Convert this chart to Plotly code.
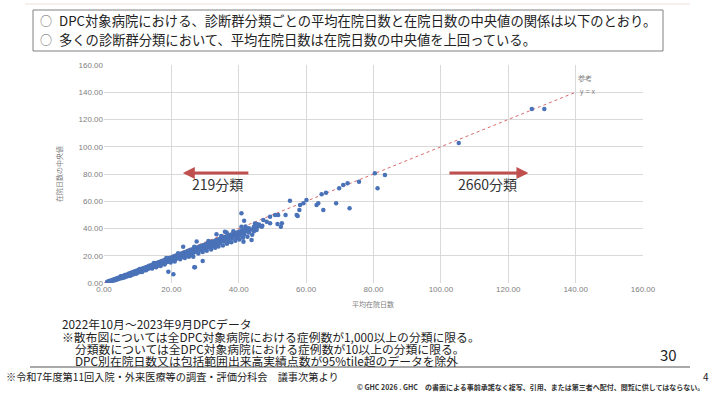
import plotly.graph_objects as go

# ---------------- data ----------------
# dense band: mean length of stay -> several median values
band_mean = [1.0, 1.5, 2.0, 2.6, 3.2, 3.8, 4.4, 5.0, 5.6, 6.2, 6.8, 7.4, 8.0, 8.6, 9.2, 9.8,
             10.4, 11.0, 11.6, 12.2, 12.8, 13.4, 14.0, 14.6, 15.2, 15.8, 16.4, 17.0, 17.6,
             18.2, 18.8, 19.4, 20.0, 20.6, 21.2, 21.8, 22.4, 23.0, 23.6, 24.2, 24.8, 25.4,
             26.0, 26.6, 27.2, 27.8, 28.4, 29.0, 29.6, 30.2, 30.8, 31.4, 32.0, 32.6, 33.2,
             33.8, 34.4, 35.0, 35.6, 36.2, 36.8, 37.4, 38.0, 38.6, 39.2, 39.8, 40.4, 41.0,
             41.6, 42.2, 43.0, 43.8, 44.5, 45.3, 46.0, 47.0]
band_median = [
    [0.8, 1.0], [1.0, 1.4], [1.5, 1.9, 1.2], [2.0, 2.4, 1.7], [2.5, 3.0, 2.1],
    [3.0, 3.5, 2.6], [3.5, 4.1, 3.0], [4.0, 4.6, 3.4, 4.9], [4.5, 5.2, 3.9],
    [5.0, 5.8, 4.3, 5.4], [5.6, 6.3, 4.8], [6.1, 6.9, 5.3, 6.5], [6.6, 7.5, 5.8, 7.0],
    [7.2, 8.0, 6.3, 7.6], [7.7, 8.6, 6.9, 8.2], [8.3, 9.2, 7.4, 8.7], [8.8, 9.7, 7.9, 9.3],
    [9.4, 10.3, 8.5, 9.9], [9.9, 10.9, 9.0, 10.4], [10.5, 11.4, 9.5, 11.0],
    [11.0, 12.0, 10.1, 11.5], [11.6, 12.6, 10.6, 12.1], [12.1, 13.1, 11.1, 12.7],
    [12.7, 13.7, 11.7, 13.2], [13.2, 14.3, 12.2, 13.8], [13.8, 14.9, 12.7, 14.4],
    [14.3, 15.4, 13.3, 14.9], [14.9, 16.0, 13.8, 15.5], [15.4, 16.6, 14.3, 16.1],
    [16.0, 17.1, 14.9, 16.6], [16.5, 17.7, 15.4, 17.2], [17.1, 18.3, 15.9, 17.8],
    [17.6, 18.8, 16.5, 18.3], [18.2, 19.4, 17.0, 18.9], [18.7, 20.0, 17.5, 19.5],
    [19.3, 20.5, 18.1, 20.0], [19.8, 21.1, 18.6, 20.6], [20.4, 21.7, 19.1, 21.2],
    [20.9, 22.2, 19.7, 21.7], [21.5, 22.8, 20.2], [22.0, 23.4, 20.7, 22.8],
    [22.6, 23.9, 21.3], [23.1, 24.5, 21.8, 23.9], [23.7, 25.1, 22.3],
    [24.2, 25.6, 22.9, 25.0], [24.8, 26.2, 23.4], [25.3, 26.8, 23.9, 26.1],
    [25.9, 27.3, 24.5], [26.4, 27.9, 25.0, 27.2], [27.0, 28.5, 25.5],
    [27.5, 29.0, 26.1, 28.3], [28.1, 29.6, 26.6], [28.6, 30.2, 27.1, 29.4],
    [29.2, 30.7, 27.7], [29.7, 31.3, 28.2, 30.5], [30.3, 31.8], [30.8, 32.4, 29.3, 31.7],
    [31.4, 33.0], [31.9, 33.5, 30.4], [32.5, 34.1], [33.0, 34.6, 31.5], [33.6, 35.2],
    [34.1, 35.7, 32.6], [34.7, 36.3], [35.2, 36.8, 33.8], [35.8, 37.3],
    [36.3, 37.9, 34.9], [36.9, 38.4], [37.4, 39.0, 35.8], [38.0, 39.4],
    [38.6, 40.1, 37.0], [39.3], [40.0, 41.2, 38.0], [40.5], [41.8, 43.0], [42.0],
]

# extra spread of the band (lower and upper fringe)
fringe_mean = [3.5, 5.5, 7.8, 9.5, 11.3, 12.5, 14.3, 15.5, 16.8, 18.0, 19.8, 21.0, 22.6,
               24.0, 25.2, 26.3, 28.0, 29.3, 30.5, 31.8, 33.0, 34.0, 35.3, 36.5, 37.8,
               39.0, 40.2, 41.3, 42.6, 44.0, 10.6, 14.8, 18.5, 22.0, 26.8, 31.0, 34.8,
               38.4, 42.0, 44.8, 33.5, 37.0, 39.6]
fringe_median = [2.2, 3.6, 5.4, 6.8, 8.0, 9.3, 10.6, 11.6, 12.4, 13.6, 15.0, 15.8, 17.4,
                 18.4, 19.2, 20.3, 21.6, 22.8, 23.6, 24.6, 25.8, 26.7, 27.6, 28.8, 30.0,
                 31.0, 32.0, 33.2, 34.0, 35.5, 10.2, 14.6, 18.4, 21.8, 26.6, 30.8, 34.5,
                 38.0, 41.5, 43.6, 27.2, 30.2, 33.0]

# scattered categories outside the dense band
outlier_mean = [43.8, 40.8, 41.6, 35.9, 27.5, 27.0, 20.6, 19.1, 45.3, 46.8, 47.3, 48.3,
                49.3, 50.8, 51.5, 52.5, 53.9, 55.2, 57.2, 58.0, 58.2, 59.2, 60.1, 63.1,
                63.6, 64.6, 65.1, 65.9, 68.9, 71.0, 72.3, 72.9, 75.7, 80.4, 81.2, 83.4,
                69.8, 105.3, 127.0, 130.7, 41.4, 45.3, 49.3, 51.7, 52.8, 57.5, 23.5, 33.4,
                29.3, 26.5, 36.4, 40.8, 26.8]
outlier_median = [31.6, 51.2, 45.7, 37.7, 30.4, 11.5, 6.4, 8.3, 43.3, 41.3, 46.2, 45.0,
                  48.7, 49.9, 43.3, 41.3, 49.9, 60.4, 49.9, 53.6, 57.2, 58.5, 60.9, 57.2,
                  58.5, 65.1, 53.6, 66.3, 58.5, 72.0, 73.2, 54.8, 74.4, 80.5, 69.5, 79.3,
                  69.5, 102.8, 127.7, 127.7, 30.3, 38.9, 43.8, 49.9, 43.8, 49.2, 26.6, 35.7,
                  16.1, 19.3, 37.0, 41.3, 11.5]

ref_x = [0, 140]
ref_y = [0, 140]

tick_vals = [0, 20, 40, 60, 80, 100, 120, 140, 160]

# ---------------- build ----------------
mean_los = []
median_los = []
for xv, ys in zip(band_mean, band_median):
    for yv in ys:
        mean_los.append(xv)
        median_los.append(yv)
mean_los += fringe_mean + outlier_mean
median_los += fringe_median + outlier_median

JP = "Noto Sans CJK JP"
L, R, T, B = 104, 643, 65, 283


def px(x):
    return (x - L) / (R - L)


def py(y):
    return (B - y) / (B - T)


fig = go.Figure()
fig.add_trace(go.Scatter(x=ref_x, y=ref_y, mode="lines",
                         line=dict(color="#d9686a", width=1, dash="dot"),
                         hoverinfo="skip", showlegend=False))
fig.add_trace(go.Scatter(x=mean_los, y=median_los, mode="markers",
                         marker=dict(color="#4a72b8", size=4.5, line=dict(width=0)),
                         showlegend=False))

axis_common = dict(range=[0, 160], tickvals=tick_vals,
                   ticktext=[f"{v:.2f}" for v in tick_vals],
                   showgrid=True, gridcolor="#d9d9d9", gridwidth=1,
                   zeroline=False, showline=False, ticks="",
                   tickfont=dict(family="Liberation Sans", size=8, color="#808080"),
                   fixedrange=True)
fig.update_xaxes(**axis_common)
fig.update_yaxes(**axis_common)


def label(xp, yp, text, size, color="#222222", xanchor="left", family=JP, **kw):
    return dict(x=px(xp), y=py(yp), xref="paper", yref="paper", text=text, showarrow=False,
                xanchor=xanchor, yanchor="middle",
                font=dict(family=family, size=size, color=color), **kw)


ann = []
# arrows
ann.append(dict(x=23.4, y=80.7, ax=43.3, ay=80.7, xref="x", yref="y", axref="x", ayref="y",
                text="", showarrow=True, arrowhead=2, arrowsize=0.8, arrowwidth=3,
                arrowcolor="#c0504d"))
ann.append(dict(x=126.0, y=80.7, ax=102.1, ay=80.7, xref="x", yref="y", axref="x", ayref="y",
                text="", showarrow=True, arrowhead=2, arrowsize=0.8, arrowwidth=3,
                arrowcolor="#c0504d"))
ann.append(dict(x=33.8, y=72.8, xref="x", yref="y", text="219分類", showarrow=False,
                font=dict(family=JP, size=14, color="#333333")))
ann.append(dict(x=113.7, y=72.8, xref="x", yref="y", text="2660分類", showarrow=False,
                font=dict(family=JP, size=14, color="#333333")))
# reference label
ann.append(label(576, 78, "参考", 7, color="#808080"))
ann.append(label(578, 92, "y = x", 7, color="#808080", family="Liberation Sans"))
# axis titles
ann.append(label(373, 304, "平均在院日数", 7, color="#808080", xanchor="center"))
ann.append(label(59, 174, "在院日数の中央値", 7, color="#808080", xanchor="center",
                 textangle=-90))
# header box text
ann.append(label(38, 20, "○", 12, color="#666666"))
ann.append(label(57, 20, "DPC対象病院における、診断群分類ごとの平均在院日数と在院日数の中央値の関係は以下のとおり。",
                 13.3))
ann.append(label(38, 40, "○", 12, color="#666666"))
ann.append(label(57, 40, "多くの診断群分類において、平均在院日数は在院日数の中央値を上回っている。", 13.3))
# notes
notes = [
    (60, 323, "2022年10月～2023年9月DPCデータ"),
    (60, 336, "※散布図については全DPC対象病院における症例数が1,000以上の分類に限る。"),
    (73, 348, "分類数については全DPC対象病院における症例数が10以上の分類に限る。"),
    (73, 360, "DPC別在院日数又は包括範囲出来高実績点数が95%tile超のデータを除外"),
]
for xp, yp, t in notes:
    ann.append(label(xp, yp, t, 11.8))
ann.append(label(679, 354, "30", 15, xanchor="right"))
ann.append(label(4, 376, "※令和7年度第11回入院・外来医療等の調査・評価分科会　議事次第より", 10.2))
ann.append(label(711, 376, "4", 10, xanchor="right"))
ann.append(label(706, 387,
                 "<b>© GHC 2026 . GHC　の書面による事前承諾なく複写、引用、または第三者へ配付、閲覧に供してはならない。</b>",
                 7, color="#333333", xanchor="right"))

shapes = [
    dict(type="rect", xref="paper", yref="paper", x0=px(33), x1=px(663), y0=py(51), y1=py(10),
         line=dict(color="#808080", width=1), fillcolor="rgba(0,0,0,0)"),
    dict(type="line", xref="paper", yref="paper", x0=px(25), x1=px(690), y0=py(4), y1=py(4),
         line=dict(color="#f3dede", width=1)),
    dict(type="line", xref="paper", yref="paper", x0=px(30), x1=px(690), y0=py(367), y1=py(367),
         line=dict(color="#555555", width=1)),
]

fig.update_layout(width=718, height=398, margin=dict(l=L, r=718 - R, t=T, b=398 - B),
                  paper_bgcolor="white", plot_bgcolor="white",
                  annotations=ann, shapes=shapes, showlegend=False,
                  font=dict(family=JP))

fig.write_html("out.html", config={"displayModeBar": False},
               post_script="document.body.style.margin='0px';document.body.style.overflow='hidden';")
